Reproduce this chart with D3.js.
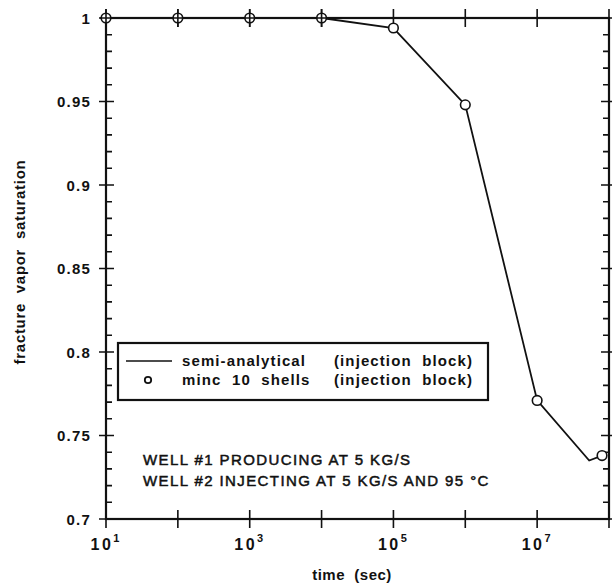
<!DOCTYPE html>
<html>
<head>
<meta charset="utf-8">
<script src="https://cdn.jsdelivr.net/npm/d3@7"></script>
<style>
  body { margin: 0; background: #fff; }
  text { font-family: "Liberation Sans", Arial, Helvetica, sans-serif; fill: #111; }
</style>
</head>
<body>
<div id="chart"></div>
<script>
var w = 612;
var h = 588;

// minc 10 shells (circles)
var mincTime = [1e1, 1e2, 1e3, 1e4, 1e5, 1e6, 1e7, 8e7];
var mincSat = [1, 1, 1, 1, 0.994, 0.948, 0.771, 0.738];

// semi-analytical (line)
var semiTime = [1e1, 1e2, 1e3, 1e4, 1e5, 1e6, 1e7, 5.3e7, 8e7];
var semiSat = [1, 1, 1, 1, 0.994, 0.948, 0.771, 0.735, 0.738];

var yMajor = [0.7, 0.75, 0.8, 0.85, 0.9, 0.95, 1];
var yLabels = ["0.7", "0.75", "0.8", "0.85", "0.9", "0.95", "1"];
var xMajor = [1e1, 1e2, 1e3, 1e4, 1e5, 1e6, 1e7, 1e8];
var xLabelExp = [1, 3, 5, 7];

var legendText = [["semi-analytical", "(injection  block)"],
                  ["minc  10  shells", "(injection  block)"]];
var noteText = ["WELL #1 PRODUCING AT 5 KG/S",
                "WELL #2 INJECTING AT 5 KG/S AND 95 \u00B0C"];

var pL = 106, pR = 609, pT = 18, pB = 519;

var x = d3.scaleLog().domain([1e1, 1e8]).range([pL, pR]);
var y = d3.scaleLinear().domain([0.7, 1]).range([pB, pT]);

var svg = d3.select("#chart")
  .append("svg")
  .attr("width", w)
  .attr("height", h);

svg.append("rect").attr("width", w).attr("height", h).attr("fill", "#fff");

//minor y ticks every 0.01
var yMinor = d3.range(70, 101).map(function(d) { return d / 100; })
  .filter(function(d) { return Math.round(d * 100) % 5 != 0; });

var ticks = svg.append("g").attr("stroke", "#111").attr("stroke-width", 1.6);

ticks.selectAll(".ymin")
  .data(yMinor)
  .enter()
  .append("path")
  .attr("d", function(d) {
    return "M" + pL + "," + y(d) + "h6M" + pR + "," + y(d) + "h-6";
  });

ticks.selectAll(".ymaj")
  .data(yMajor)
  .enter()
  .append("path")
  .attr("d", function(d) {
    return "M" + (pL - 7) + "," + y(d) + "h15M" + (pR - 8) + "," + y(d) + "h15";
  });

ticks.selectAll(".xmaj")
  .data(xMajor)
  .enter()
  .append("path")
  .attr("d", function(d) {
    return "M" + x(d) + "," + (pT - 9) + "v18M" + x(d) + "," + (pB - 9) + "v18";
  });

//frame
svg.append("rect")
  .attr("x", pL)
  .attr("y", pT)
  .attr("width", pR - pL)
  .attr("height", pB - pT)
  .attr("fill", "none")
  .attr("stroke", "#111")
  .attr("stroke-width", 2.2);

//y tick labels
svg.selectAll(".ylab")
  .data(yMajor)
  .enter()
  .append("text")
  .attr("x", pL - 15)
  .attr("y", function(d) { return y(d) + 5.5; })
  .attr("text-anchor", "end")
  .style("font-size", "15px")
  .style("font-weight", "bold")
  .style("letter-spacing", "1.2px")
  .text(function(d, i) { return yLabels[i]; });

//x tick labels
var xl = svg.selectAll(".xlab")
  .data(xLabelExp)
  .enter()
  .append("text")
  .attr("x", function(d) { return x(Math.pow(10, d)) - 1; })
  .attr("y", 550)
  .attr("text-anchor", "middle")
  .style("font-size", "16px")
  .style("font-weight", "bold");
xl.append("tspan").style("letter-spacing", "2.5px").text("10");
xl.append("tspan")
  .attr("dy", -8)
  .style("font-size", "11px")
  .text(function(d) { return d; });

//axis titles
svg.append("text")
  .attr("x", 352)
  .attr("y", 580)
  .attr("text-anchor", "middle")
  .style("font-size", "15px")
  .style("font-weight", "bold")
  .style("letter-spacing", "0.5px")
  .style("white-space", "pre")
  .text("time  (sec)");

svg.append("text")
  .attr("transform", "translate(25," + 262 + ") rotate(-90)")
  .attr("text-anchor", "middle")
  .style("font-size", "15px")
  .style("font-weight", "bold")
  .style("letter-spacing", "0.7px")
  .style("white-space", "pre")
  .text("fracture  vapor  saturation");

//semi-analytical line
var line = d3.line()
  .x(function(d) { return x(d[0]); })
  .y(function(d) { return y(d[1]); });

svg.append("path")
  .datum(d3.zip(semiTime, semiSat))
  .attr("d", line)
  .attr("fill", "none")
  .attr("stroke", "#111")
  .attr("stroke-width", 1.8);

//minc circles
svg.selectAll(".pt")
  .data(d3.zip(mincTime, mincSat))
  .enter()
  .append("circle")
  .attr("cx", function(d) { return x(d[0]); })
  .attr("cy", function(d) { return y(d[1]); })
  .attr("r", 4.8)
  .attr("fill", "#fff")
  .attr("stroke", "#111")
  .attr("stroke-width", 1.6);

//ticks show through the circles sitting on the top axis
svg.selectAll(".cross")
  .data(mincTime.filter(function(d, i) { return mincSat[i] == 1; }))
  .enter()
  .append("path")
  .attr("d", function(d) { return "M" + x(d) + "," + (pT - 9) + "v18M" + (x(d) - 6) + "," + pT + "h12"; })
  .attr("stroke", "#111")
  .attr("stroke-width", 1.6);

//legend
var lg = svg.append("g");
lg.append("rect")
  .attr("x", 118)
  .attr("y", 343)
  .attr("width", 370)
  .attr("height", 57)
  .attr("fill", "#fff")
  .attr("stroke", "#111")
  .attr("stroke-width", 2.2);
lg.append("line")
  .attr("x1", 126).attr("x2", 172)
  .attr("y1", 361).attr("y2", 361)
  .attr("stroke", "#111").attr("stroke-width", 1.6);
lg.append("circle")
  .attr("cx", 148).attr("cy", 380).attr("r", 3.2)
  .attr("fill", "#fff").attr("stroke", "#111").attr("stroke-width", 1.8);
legendText.forEach(function(t, i) {
  lg.append("text")
    .attr("x", 182).attr("y", 366 + i * 19)
    .style("font-size", "15px").style("font-weight", "bold")
    .style("letter-spacing", "1.1px").style("white-space", "pre")
    .text(t[0]);
  lg.append("text")
    .attr("x", 334).attr("y", 366 + i * 19)
    .style("font-size", "15px").style("font-weight", "bold")
    .style("letter-spacing", "1.1px").style("white-space", "pre")
    .text(t[1]);
});

//note
svg.selectAll(".note")
  .data(noteText)
  .enter()
  .append("text")
  .attr("x", 143)
  .attr("y", function(d, i) { return 465 + i * 21; })
  .style("font-size", "15px")
  .style("letter-spacing", "1.4px")
  .attr("stroke", "#111")
  .attr("stroke-width", 0.5)
  .text(function(d) { return d; });
</script>
</body>
</html>
